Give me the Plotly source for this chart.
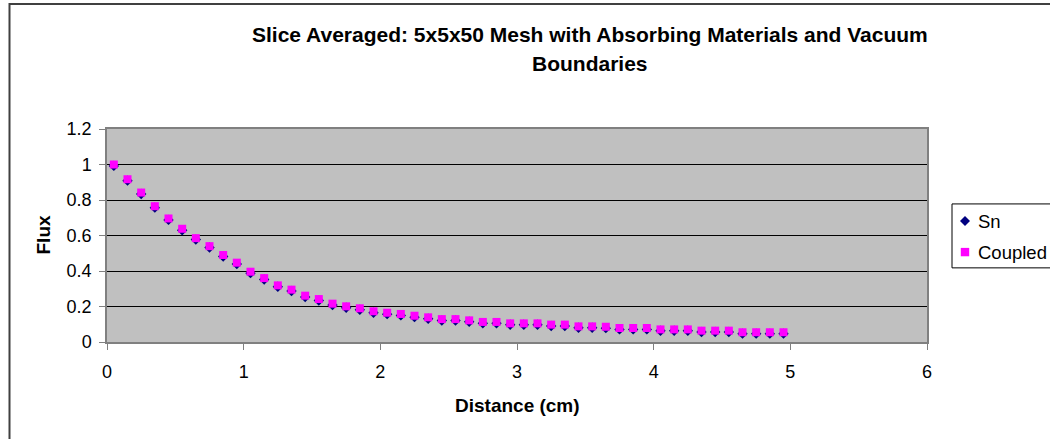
import plotly.graph_objects as go

# Slice-averaged flux along the mesh (50 axial slices, cell centres in cm)
distance_cm = [
    0.05, 0.15, 0.25, 0.35, 0.45, 0.55, 0.65, 0.75, 0.85, 0.95,
    1.05, 1.15, 1.25, 1.35, 1.45, 1.55, 1.65, 1.75, 1.85, 1.95,
    2.05, 2.15, 2.25, 2.35, 2.45, 2.55, 2.65, 2.75, 2.85, 2.95,
    3.05, 3.15, 3.25, 3.35, 3.45, 3.55, 3.65, 3.75, 3.85, 3.95,
    4.05, 4.15, 4.25, 4.35, 4.45, 4.55, 4.65, 4.75, 4.85, 4.95,
]

flux_sn = [
    0.992, 0.909, 0.834, 0.757, 0.688, 0.630, 0.577, 0.532, 0.482, 0.439,
    0.388, 0.352, 0.311, 0.287, 0.253, 0.234, 0.208, 0.193, 0.182, 0.165,
    0.157, 0.150, 0.140, 0.131, 0.121, 0.121, 0.114, 0.105, 0.105, 0.097,
    0.097, 0.097, 0.090, 0.090, 0.080, 0.080, 0.078, 0.071, 0.071, 0.071,
    0.063, 0.063, 0.063, 0.056, 0.056, 0.056, 0.047, 0.047, 0.047, 0.047,
]

flux_coupled = [
    1.000, 0.917, 0.842, 0.765, 0.696, 0.638, 0.585, 0.540, 0.490, 0.447,
    0.396, 0.360, 0.319, 0.295, 0.261, 0.242, 0.216, 0.201, 0.190, 0.173,
    0.165, 0.158, 0.148, 0.139, 0.129, 0.129, 0.122, 0.113, 0.113, 0.105,
    0.105, 0.105, 0.098, 0.098, 0.088, 0.088, 0.086, 0.079, 0.079, 0.079,
    0.071, 0.071, 0.071, 0.064, 0.064, 0.064, 0.055, 0.055, 0.055, 0.055,
]

series_names = ["Sn", "Coupled"]
series_colors = ["#000080", "#FF00FF"]
series_symbols = ["diamond", "square"]

title_lines = ["Slice Averaged: 5x5x50 Mesh with Absorbing Materials and Vacuum", "Boundaries"]
x_title = "Distance (cm)"
y_title = "Flux"

FONT = "Arial, 'Liberation Sans', sans-serif"
W, H = 1050, 439
L, R, T, B = 107, 123, 128.5, 97.3
PW, PH = W - L - R, H - T - B


def px_x(px):
    """pixel column -> paper x"""
    return (px - L) / PW


def px_y(py):
    """pixel row -> paper y"""
    return (H - B - py) / PH


fig = go.Figure()
for name, ys, color, symbol in zip(series_names, [flux_sn, flux_coupled],
                                   series_colors, series_symbols):
    fig.add_trace(go.Scatter(
        x=distance_cm, y=ys, mode="markers", name=name,
        marker=dict(symbol=symbol, size=8, color=color),
    ))

axis_common = dict(
    showline=True, linecolor="#808080", linewidth=1.5, mirror=True,
    ticks="outside", ticklen=6, tickcolor="#808080", tickwidth=1,
    tickfont=dict(family=FONT, size=18, color="black"),
    zeroline=False,
)

fig.update_xaxes(range=[0, 6], dtick=1, tick0=0, showgrid=False,
                 ticklabelstandoff=7, **axis_common)
fig.update_yaxes(range=[0, 1.2], dtick=0.2, tick0=0, showgrid=True,
                 gridcolor="black", gridwidth=1, ticklabelstandoff=4, **axis_common)


def text_ann(text, x, y, size, bold=False, xanchor="center", angle=0):
    return dict(
        text="<b>%s</b>" % text if bold else text, x=x, y=y,
        xref="paper", yref="paper", xanchor=xanchor, yanchor="middle",
        showarrow=False, textangle=angle,
        font=dict(family=FONT, size=size, color="black"),
    )


annotations = [
    text_ann(title_lines[0], px_x(590), px_y(34), 21, bold=True),
    text_ann(title_lines[1], px_x(590), px_y(63), 21, bold=True),
    text_ann(x_title, 0.5, px_y(405), 19, bold=True),
    text_ann(y_title, px_x(43), 0.5, 19, bold=True, angle=-90),
]

# outer chart frame
shapes = [dict(
    type="rect", xref="paper", yref="paper",
    x0=px_x(9.5), x1=px_x(1080), y0=px_y(470), y1=px_y(3.5),
    line=dict(color="#404040", width=2), fillcolor="rgba(0,0,0,0)", layer="below",
)]

# legend box with one entry per series
leg_left, leg_top, leg_bottom = 952, 203.5, 267.5
shapes.append(dict(
    type="rect", xref="paper", yref="paper",
    x0=px_x(leg_left), x1=px_x(1100), y0=px_y(leg_bottom), y1=px_y(leg_top),
    line=dict(color="black", width=1), fillcolor="white", layer="above",
))
row_y = [220.7, 251.7]
mark_x = 965
for name, color, symbol, ry in zip(series_names, series_colors, series_symbols, row_y):
    if symbol == "diamond":
        h = 5
        path = "M {a},{b} L {c},{d} L {e},{f} L {g},{k} Z".format(
            a=px_x(mark_x - h), b=px_y(ry), c=px_x(mark_x), d=px_y(ry - h),
            e=px_x(mark_x + h), f=px_y(ry), g=px_x(mark_x), k=px_y(ry + h))
        shapes.append(dict(type="path", xref="paper", yref="paper", path=path,
                           fillcolor=color, line=dict(width=0), layer="above"))
    else:
        h = 4.2
        shapes.append(dict(type="rect", xref="paper", yref="paper",
                           x0=px_x(mark_x - h), x1=px_x(mark_x + h),
                           y0=px_y(ry + h), y1=px_y(ry - h),
                           fillcolor=color, line=dict(width=0), layer="above"))
    annotations.append(text_ann(name, px_x(976), px_y(ry), 18.5, xanchor="left"))

fig.update_layout(
    width=W, height=H,
    margin=dict(l=L, r=R, t=T, b=B, pad=0, autoexpand=False),
    paper_bgcolor="white", plot_bgcolor="#C0C0C0",
    annotations=annotations, shapes=shapes,
    showlegend=False,
)

fig.write_html("out.html")
